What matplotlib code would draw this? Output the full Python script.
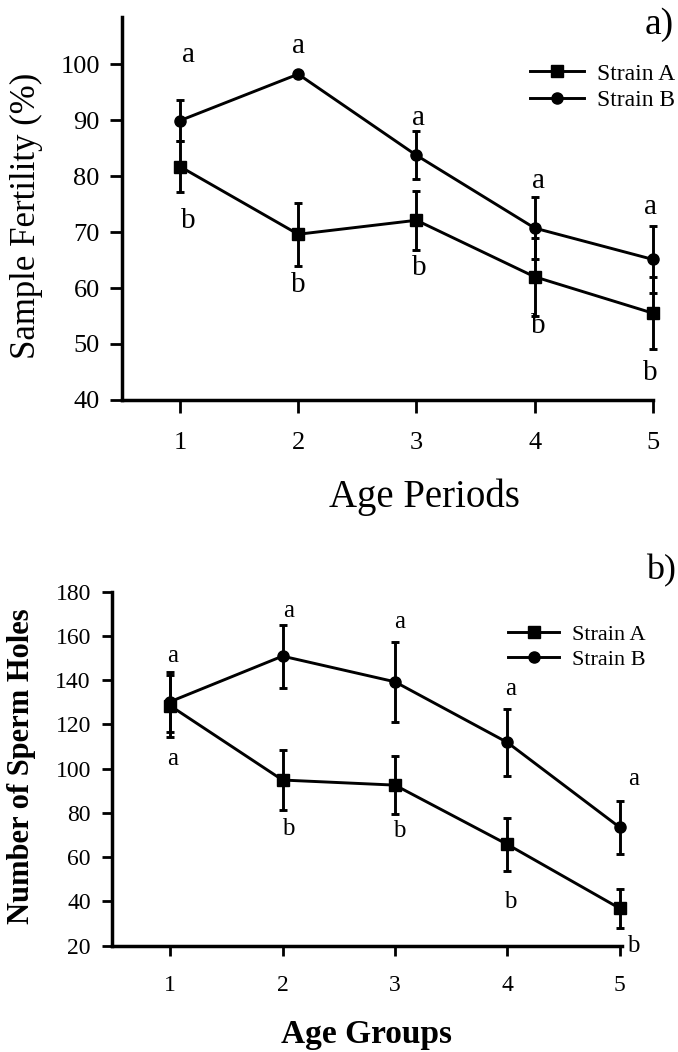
import matplotlib
matplotlib.use("Agg")
import matplotlib.pyplot as plt
from matplotlib.lines import Line2D

plt.rcParams['font.family'] = ['Liberation Serif', 'DejaVu Serif']

# -----------------------------
# Data
# -----------------------------
periods = [1, 2, 3, 4, 5]

# a) sample fertility (%)
fert_a = [81.7, 69.6, 72.1, 62.0, 55.5]
fert_a_err = [4.5, 5.6, 5.3, 7.0, 6.4]
fert_b = [89.9, 98.2, 83.7, 70.7, 65.1]
fert_b_err = [3.7, 0.0, 4.3, 5.6, 6.0]
fert_top_letters = ['a', 'a', 'a', 'a', 'a']
fert_bot_letters = ['b', 'b', 'b', 'b', 'b']

# b) number of sperm holes
holes_a = [128.5, 94.9, 92.6, 65.8, 36.9]
holes_a_err = [14.0, 13.5, 13.0, 12.0, 8.7]
holes_b = [130.3, 150.9, 139.3, 111.9, 73.5]
holes_b_err = [13.5, 14.2, 18.0, 15.0, 12.0]
holes_top_letters = ['a', 'a', 'a', 'a', 'a']
holes_bot_letters = ['a', 'b', 'b', 'b', 'b']

# letter placement (data coords, baseline)
fert_top_y = [100.4, 101.9, 89.1, 77.8, 73.3]
fert_bot_y = [70.7, 59.3, 62.3, 51.9, 43.6]
fert_dx = [0.07, 0.0, 0.02, 0.03, -0.02]
holes_top_y = [148.4, 168.7, 163.5, 133.3, 92.6]
holes_bot_y = [101.7, 70.0, 69.3, 36.9, 17.3]
holes_dx = [0.02, 0.05, 0.04, 0.03, 0.12]

fig = plt.figure(figsize=(6.78, 10.52), dpi=100)


def style_axes(ax, ticklen, labelsize, xpad, ypad):
    for s in ['top', 'right']:
        ax.spines[s].set_visible(False)
    for s in ['left', 'bottom']:
        ax.spines[s].set_linewidth(2.5)
    ax.tick_params(axis='both', direction='out', width=2.0, length=ticklen,
                   labelsize=labelsize)
    ax.tick_params(axis='x', pad=xpad)
    ax.tick_params(axis='y', pad=ypad)


def draw_series(ax, y_a, e_a, y_b, e_b):
    kw = dict(color='black', lw=2.1, ms=8, elinewidth=2.1, capsize=3.2,
              capthick=2.1, clip_on=False, zorder=3)
    ax.errorbar(periods, y_a, yerr=e_a, marker='s', **kw)
    ax.errorbar(periods, y_b, yerr=e_b, marker='o', **kw)


def legend_handles():
    return [Line2D([], [], color='black', lw=2.1, marker='s', ms=8),
            Line2D([], [], color='black', lw=2.1, marker='o', ms=8)]


# -----------------------------
# Panel a
# -----------------------------
ax1 = fig.add_axes([0.1799, 0.6198, 0.7832, 0.3640])
draw_series(ax1, fert_a, fert_a_err, fert_b, fert_b_err)
ax1.set_xlim(0.51, 5.0)
ax1.set_ylim(40, 108.4)
ax1.set_xticks(periods)
ax1.set_yticks([40, 50, 60, 70, 80, 90, 100])
style_axes(ax1, 9, 19, 14, 7)
ax1.set_ylabel('Sample Fertility (%)', fontsize=25, va='center')
ax1.yaxis.set_label_coords(-0.179, 0.48)
ax1.set_xlabel('Age Periods', fontsize=28, va='center')
ax1.xaxis.set_label_coords(0.569, -0.253)
for i, x in enumerate(periods):
    ax1.text(x + fert_dx[i], fert_top_y[i], fert_top_letters[i], ha='center',
             va='baseline', fontsize=21)
    ax1.text(x + fert_dx[i], fert_bot_y[i], fert_bot_letters[i], ha='center',
             va='baseline', fontsize=21, clip_on=False)
ax1.legend(legend_handles(), ['Strain A', 'Strain B'],
           loc='upper left', bbox_to_anchor=(0.7817, 0.9401),
           bbox_transform=fig.transFigure, frameon=False, fontsize=17,
           handlelength=2.3, handletextpad=0.55, labelspacing=0.2,
           borderpad=0, borderaxespad=0, numpoints=1)
fig.text(0.972, 1 - 25 / 1052, 'a)', ha='center', va='center', fontsize=27)

# -----------------------------
# Panel b
# -----------------------------
ax2 = fig.add_axes([0.1647, 0.1010, 0.7527, 0.3365])
draw_series(ax2, holes_a, holes_a_err, holes_b, holes_b_err)
ax2.set_xlim(0.48, 5.02)
ax2.set_ylim(20, 180)
ax2.set_xticks(periods)
ax2.set_yticks(range(20, 181, 20))
style_axes(ax2, 7, 17, 14, 8)
ax2.set_ylabel('Number of Sperm Holes', fontsize=22, fontweight='bold',
               va='center')
ax2.yaxis.set_label_coords(-0.176, 0.508)
ax2.set_xlabel('Age Groups', fontsize=24, fontweight='bold', va='center')
ax2.xaxis.set_label_coords(0.499, -0.252)
for i, x in enumerate(periods):
    ax2.text(x + holes_dx[i], holes_top_y[i], holes_top_letters[i], ha='center',
             va='baseline', fontsize=18)
    ax2.text(x + holes_dx[i], holes_bot_y[i], holes_bot_letters[i], ha='center',
             va='baseline', fontsize=18, clip_on=False)
ax2.legend(legend_handles(), ['Strain A', 'Strain B'],
           loc='upper left', bbox_to_anchor=(0.7493, 0.4068),
           bbox_transform=fig.transFigure, frameon=False, fontsize=16,
           handlelength=2.3, handletextpad=0.58, labelspacing=0.2,
           borderpad=0, borderaxespad=0, numpoints=1)
fig.text(0.975, 1 - 571 / 1052, 'b)', ha='center', va='center', fontsize=26)

fig.savefig('out.png', dpi=100)
